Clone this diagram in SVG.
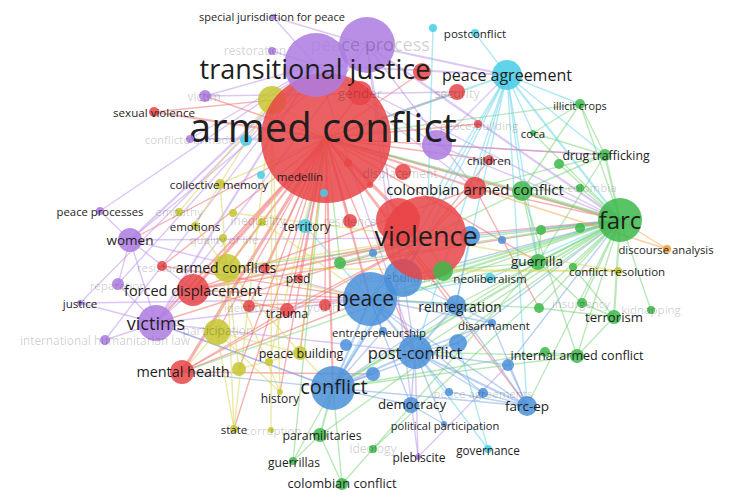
<svg xmlns="http://www.w3.org/2000/svg" width="736" height="500" viewBox="0 0 736 500">
<style>
#edges path{fill:none;stroke-width:1.4;stroke-opacity:0.5;stroke-linecap:round}
#edges .w2{stroke-width:2.2}
#edges .w3{stroke-width:3.2}
.er{stroke:#f06464}.ep{stroke:#bb8fec}.eg{stroke:#74d274}.eb{stroke:#78a4e4}.ey{stroke:#d8d450}.ec{stroke:#62d3e8}.eo{stroke:#f4a040}
circle{fill-opacity:0.85}
.cr{fill:#e84447}.cp{fill:#ad7be2}.cg{fill:#3db94a}.cb{fill:#4a8fd9}.cy{fill:#c6c630}.cc{fill:#47cde6}.co{fill:#f39a2e}
text{font-family:"Open Sans","DejaVu Sans",sans-serif;text-anchor:middle;dominant-baseline:central}
.t{fill:#1e1e1e}
.f{fill:#000;fill-opacity:0.2}
</style>
<rect width="736" height="500" fill="#fff"/>
<g id="edges">
<path class="er w3" d="M326 138L182 372"/><path class="er w3" d="M326 138L193 290"/><path class="er w2" d="M326 138L156 323"/><path class="er w2" d="M326 138L154 112"/><path class="er w2" d="M326 138L227 268"/><path class="er" d="M326 138L287 310"/><path class="er" d="M326 138L299 278"/><path class="er" d="M326 138L249 306"/><path class="er" d="M326 138L325 305"/><path class="er" d="M326 138L162 266"/><path class="er" d="M326 138L265 268"/><path class="er w3" d="M326 138L425 238"/><path class="er w2" d="M326 138L475 188"/><path class="er" d="M326 138L489 160"/><path class="er w2" d="M326 138L457 92"/><path class="er" d="M326 138L422 72"/><path class="er" d="M326 138L360 93"/><path class="er" d="M326 138L403 172"/><path class="er" d="M326 138L350 221"/><path class="er w2" d="M326 138L620 220"/><path class="er w2" d="M326 138L370 299"/><path class="er w2" d="M326 138L333 388"/><path class="er" d="M326 138L415 352"/><path class="er" d="M326 138L130 240"/><path class="er" d="M326 138L205 96"/><path class="er" d="M326 138L478 124"/><path class="er" d="M326 138L605 155"/><path class="er" d="M326 138L538 262"/><path class="er" d="M326 138L239 369"/><path class="er" d="M326 138L300 353"/><path class="er" d="M326 138L280 392"/><path class="er" d="M326 138L234 429"/><path class="er" d="M326 138L217 332"/><path class="er" d="M326 138L527 406"/><path class="er" d="M326 138L456 305"/><path class="er" d="M182 372L425 238"/><path class="er" d="M182 372L370 299"/><path class="er" d="M182 372L373 374"/><path class="er w2" d="M193 290L425 238"/><path class="er" d="M193 290L370 299"/><path class="er" d="M193 290L475 188"/><path class="er" d="M193 290L620 220"/><path class="er" d="M154 112L272 100"/><path class="er" d="M425 238L475 188"/><path class="er" d="M425 238L620 220"/><path class="er" d="M425 238L489 160"/><path class="er" d="M475 188L620 220"/><path class="er" d="M475 188L539 308"/><path class="er" d="M287 310L425 238"/><path class="er" d="M156 323L425 238"/><path class="er" d="M193 290L287 310"/><path class="er" d="M182 372L287 310"/><path class="er" d="M265 268L425 238"/><path class="er" d="M162 266L370 299"/><path class="er" d="M249 306L370 299"/>
<path class="ep w2" d="M316 65L156 323"/><path class="ep w2" d="M316 65L130 240"/><path class="ep" d="M316 65L118 284"/><path class="ep" d="M316 65L80 303"/><path class="ep" d="M316 65L273 17"/><path class="ep" d="M316 65L272 51"/><path class="ep" d="M316 65L205 96"/><path class="ep" d="M316 65L190 139"/><path class="ep w2" d="M316 65L507 75"/><path class="ep" d="M316 65L620 220"/><path class="ep" d="M316 65L437 145"/><path class="ep" d="M316 65L105 340"/><path class="ep" d="M316 65L100 211"/><path class="ep" d="M316 65L415 352"/><path class="ep" d="M316 65L475 188"/><path class="ep w2" d="M367 45L507 75"/><path class="ep w2" d="M367 45L620 220"/><path class="ep" d="M367 45L156 323"/><path class="ep" d="M367 45L130 240"/><path class="ep" d="M367 45L475 188"/><path class="ep" d="M367 45L273 17"/><path class="ep" d="M367 45L418 457"/><path class="ep" d="M367 45L415 352"/><path class="ep" d="M437 145L620 220"/><path class="ep" d="M437 145L605 155"/><path class="ep" d="M437 145L507 75"/><path class="ep" d="M156 323L130 240"/><path class="ep" d="M156 323L80 303"/><path class="ep" d="M156 323L118 284"/><path class="ep" d="M156 323L193 290"/><path class="ep" d="M156 323L105 340"/><path class="ep" d="M156 323L370 299"/><path class="ep" d="M156 323L333 388"/><path class="ep" d="M156 323L415 352"/><path class="ep" d="M130 240L100 211"/><path class="ep" d="M130 240L425 238"/><path class="ep" d="M130 240L370 299"/><path class="ep" d="M130 240L193 290"/><path class="ep" d="M205 96L457 92"/><path class="ep" d="M418 457L415 352"/><path class="ep" d="M418 457L508 365"/><path class="ep" d="M80 303L370 299"/><path class="ep" d="M118 284L130 240"/><path class="ep" d="M190 139L326 138"/>
<path class="eg w2" d="M620 220L538 262"/><path class="eg w2" d="M620 220L614 317"/><path class="eg" d="M620 220L577 356"/><path class="eg" d="M620 220L582 303"/><path class="eg" d="M620 220L651 310"/><path class="eg w2" d="M620 220L605 155"/><path class="eg" d="M620 220L580 104"/><path class="eg" d="M620 220L533 133"/><path class="eg" d="M620 220L559 164"/><path class="eg w3" d="M620 220L522 191"/><path class="eg" d="M620 220L580 188"/><path class="eg" d="M620 220L541 230"/><path class="eg" d="M620 220L580 228"/><path class="eg" d="M620 220L573 267"/><path class="eg" d="M620 220L539 308"/><path class="eg w2" d="M620 220L443 271"/><path class="eg w2" d="M620 220L370 299"/><path class="eg w2" d="M620 220L333 388"/><path class="eg" d="M620 220L415 352"/><path class="eg" d="M620 220L456 305"/><path class="eg" d="M620 220L527 406"/><path class="eg" d="M620 220L320 435"/><path class="eg" d="M620 220L227 268"/><path class="eg" d="M620 220L182 372"/><path class="eg" d="M620 220L340 263"/><path class="eg" d="M580 104L605 155"/><path class="eg" d="M580 104L533 133"/><path class="eg" d="M580 104L522 191"/><path class="eg" d="M580 104L326 138"/><path class="eg" d="M605 155L522 191"/><path class="eg" d="M605 155L533 133"/><path class="eg" d="M605 155L538 262"/><path class="eg" d="M605 155L475 188"/><path class="eg" d="M522 191L425 238"/><path class="eg w2" d="M522 191L326 138"/><path class="eg" d="M522 191L538 262"/><path class="eg" d="M522 191L577 356"/><path class="eg" d="M614 317L582 303"/><path class="eg" d="M614 317L577 356"/><path class="eg" d="M614 317L539 308"/><path class="eg" d="M614 317L573 267"/><path class="eg" d="M577 356L545 352"/><path class="eg" d="M577 356L333 388"/><path class="eg" d="M577 356L415 352"/><path class="eg w2" d="M320 435L333 388"/><path class="eg" d="M320 435L293 461"/><path class="eg" d="M320 435L342 484"/><path class="eg" d="M293 461L333 388"/><path class="eg" d="M293 461L326 138"/><path class="eg" d="M342 484L333 388"/><path class="eg" d="M342 484L538 262"/><path class="eg" d="M373 449L620 220"/><path class="eg" d="M340 263L425 238"/><path class="eg" d="M340 263L326 138"/><path class="eg" d="M538 262L541 230"/><path class="eg" d="M538 262L582 303"/><path class="eg" d="M538 262L333 388"/><path class="eg" d="M538 262L370 299"/><path class="eg" d="M538 262L443 271"/><path class="eg" d="M443 271L425 238"/><path class="eg" d="M580 188L522 191"/><path class="eg" d="M545 352L333 388"/><path class="eg" d="M539 308L370 299"/>
<path class="ec w2" d="M507 75L620 220"/><path class="ec" d="M507 75L580 104"/><path class="ec" d="M507 75L605 155"/><path class="ec" d="M507 75L538 262"/><path class="ec" d="M507 75L425 238"/><path class="ec" d="M507 75L370 299"/><path class="ec" d="M507 75L415 352"/><path class="ec" d="M507 75L333 388"/><path class="ec w2" d="M507 75L326 138"/><path class="ec" d="M507 75L475 188"/><path class="ec" d="M507 75L456 305"/><path class="ec" d="M507 75L533 133"/><path class="ec" d="M433 28L428 200"/><path class="ec" d="M475 33L507 75"/><path class="ec" d="M488 449L415 352"/><path class="ec" d="M488 449L458 343"/><path class="ec" d="M490 278L370 299"/><path class="ec" d="M490 278L620 220"/><path class="ec" d="M305 226L326 138"/><path class="ec" d="M305 226L370 299"/><path class="ec" d="M246 140L326 138"/><path class="ec" d="M507 75L522 191"/><path class="ec" d="M507 75L527 406"/>
<path class="eb w2" d="M333 388L370 299"/><path class="eb w2" d="M333 388L415 352"/><path class="eb w2" d="M333 388L425 238"/><path class="eb" d="M333 388L527 406"/><path class="eb" d="M333 388L411 405"/><path class="eb" d="M333 388L403 278"/><path class="eb" d="M333 388L456 305"/><path class="eb" d="M333 388L383 331"/><path class="eb" d="M333 388L373 374"/><path class="eb" d="M333 388L458 343"/><path class="eb" d="M333 388L182 372"/><path class="eb" d="M333 388L156 323"/><path class="eb w2" d="M370 299L456 305"/><path class="eb w2" d="M370 299L415 352"/><path class="eb" d="M370 299L383 331"/><path class="eb" d="M370 299L425 238"/><path class="eb" d="M370 299L492 323"/><path class="eb" d="M370 299L527 406"/><path class="eb" d="M370 299L483 393"/><path class="eb w2" d="M415 352L456 305"/><path class="eb w2" d="M415 352L527 406"/><path class="eb" d="M415 352L411 405"/><path class="eb" d="M415 352L492 323"/><path class="eb" d="M415 352L458 343"/><path class="eb" d="M415 352L508 365"/><path class="eb" d="M415 352L444 424"/><path class="eb" d="M415 352L483 393"/><path class="eb" d="M415 352L449 392"/><path class="eb" d="M527 406L456 305"/><path class="eb" d="M527 406L483 393"/><path class="eb" d="M527 406L449 392"/><path class="eb" d="M527 406L508 365"/><path class="eb" d="M527 406L492 323"/><path class="eb" d="M411 405L444 424"/><path class="eb" d="M411 405L370 299"/><path class="eb" d="M403 278L456 305"/><path class="eb" d="M403 278L425 238"/><path class="eb" d="M403 278L620 220"/><path class="eb" d="M470 236L620 220"/><path class="eb" d="M470 236L456 305"/><path class="eb" d="M458 343L620 220"/><path class="eb" d="M508 365L620 220"/><path class="eb" d="M456 305L492 323"/>
<path class="ey" d="M227 268L220 184"/><path class="ey" d="M227 268L195 226"/><path class="ey" d="M227 268L223 238"/><path class="ey" d="M227 268L262 222"/><path class="ey" d="M227 268L234 429"/><path class="ey" d="M227 268L280 392"/><path class="ey" d="M227 268L300 353"/><path class="ey" d="M227 268L239 369"/><path class="ey" d="M227 268L217 332"/><path class="ey" d="M227 268L370 299"/><path class="ey" d="M227 268L425 238"/><path class="ey" d="M227 268L618 271"/><path class="ey" d="M217 332L300 353"/><path class="ey" d="M217 332L234 429"/><path class="ey" d="M217 332L280 392"/><path class="ey" d="M217 332L182 372"/><path class="ey" d="M220 184L326 138"/><path class="ey" d="M220 184L195 226"/><path class="ey" d="M220 184L272 100"/><path class="ey" d="M300 353L333 388"/><path class="ey" d="M300 353L326 138"/><path class="ey" d="M300 353L239 369"/><path class="ey" d="M272 100L326 138"/><path class="ey" d="M234 429L272 100"/><path class="ey" d="M280 392L272 100"/><path class="ey" d="M179 212L272 100"/><path class="ey" d="M233 213L425 238"/><path class="ey" d="M618 271L443 271"/><path class="ey" d="M269 362L326 138"/><path class="ey" d="M618 271L425 238"/><path class="ey" d="M262 222L370 299"/><path class="ey" d="M271 430L272 100"/>
<path class="eo" d="M667 249L475 188"/><path class="eo" d="M667 249L620 220"/>
</g>
<g id="nodes">
<g id="n-red-a"><circle class="cr" cx="398" cy="220" r="22"/></g>
<g id="n-blue-a"><circle class="cb" cx="470" cy="236" r="10"/></g>
<g id="n-blue-b"><circle class="cb" cx="458" cy="343" r="9"/></g>
<g id="n-blue-c"><circle class="cb" cx="373" cy="374" r="7"/></g>
<g id="n-green-a"><circle class="cg" cx="522" cy="191" r="10"/></g>
<g id="n-green-d"><circle class="cg" cx="559" cy="164" r="5"/></g>
<g id="n-green-g"><circle class="cg" cx="573" cy="267" r="4"/></g>
<g id="n-green-i"><circle class="cg" cx="545" cy="352" r="5"/></g>
<g id="n-red-c"><circle class="cr" cx="265" cy="268" r="5"/></g>
<g id="n-yellow-a"><circle class="cy" cx="272" cy="100" r="14"/></g>
<g id="n-cyan-a"><circle class="cc" cx="246" cy="140" r="6"/></g>
<g id="n-purple-a"><circle class="cp" cx="437" cy="145" r="15"/></g>
<g id="n-red-b"><circle class="cr" cx="422" cy="72" r="9"/></g>
<g id="n-peace-process"><circle class="cp" cx="367" cy="45" r="28"/><text class="f" x="370" y="44" font-size="18">peace process</text></g>
<g id="n-peacebuilding"><circle class="cb" cx="403" cy="278" r="19"/><text class="f" x="398" y="277" font-size="12">peacebuilding</text></g>
<g id="n-armed-conflict"><circle class="cr" cx="326" cy="138" r="65"/><text class="t" x="323" y="126" font-size="40">armed conflict</text></g>
<g id="n-violence"><circle class="cr" cx="425" cy="238" r="42"/><text class="t" x="426" y="235" font-size="27">violence</text></g>
<g id="n-transitional-justice"><circle class="cp" cx="316" cy="65" r="32"/><text class="t" x="315" y="68" font-size="27">transitional justice</text></g>
<g id="n-peace"><circle class="cb" cx="370" cy="299" r="27"/><text class="t" x="365" y="298" font-size="21">peace</text></g>
<g id="n-farc"><circle class="cg" cx="620" cy="220" r="22"/><text class="t" x="620" y="219" font-size="24">farc</text></g>
<g id="n-conflict"><circle class="cb" cx="333" cy="388" r="22"/><text class="t" x="334" y="386" font-size="20">conflict</text></g>
<g id="n-victims"><circle class="cp" cx="156" cy="323" r="18"/><text class="t" x="156" y="323" font-size="18">victims</text></g>
<g id="n-post-conflict"><circle class="cb" cx="415" cy="352" r="17"/><text class="t" x="415" y="352" font-size="16.5">post-conflict</text></g>
<g id="n-forced-displacement"><circle class="cr" cx="193" cy="290" r="16"/><text class="t" x="193" y="290" font-size="14.5">forced displacement</text></g>
<g id="n-peace-agreement"><circle class="cc" cx="507" cy="75" r="15"/><text class="t" x="507" y="75" font-size="16">peace agreement</text></g>
<g id="n-armed-conflicts"><circle class="cy" cx="227" cy="268" r="14"/><text class="t" x="226" y="267" font-size="14">armed conflicts</text></g>
<g id="n-participation"><circle class="cy" cx="217" cy="332" r="13"/><text class="f" x="218" y="330" font-size="12">participation</text></g>
<g id="n-mental-health"><circle class="cr" cx="182" cy="372" r="12"/><text class="t" x="183" y="371" font-size="14.4">mental health</text></g>
<g id="n-women"><circle class="cp" cx="130" cy="240" r="12"/><text class="t" x="130" y="240" font-size="13.5">women</text></g>
<g id="n-gender"><circle class="cr" cx="360" cy="93" r="12"/><text class="f" x="360" y="93" font-size="13.5">gender</text></g>
<g id="n-colombian-armed-conflict"><circle class="cr" cx="475" cy="188" r="11"/><text class="t" x="475" y="189" font-size="15">colombian armed conflict</text></g>
<g id="n-green-b"><circle class="cg" cx="443" cy="271" r="10"/></g>
<g id="n-reintegration"><circle class="cb" cx="456" cy="305" r="10"/><text class="t" x="460" y="306" font-size="13.7">reintegration</text></g>
<g id="n-farc-ep"><circle class="cb" cx="527" cy="406" r="10"/><text class="t" x="527" y="406" font-size="13.5">farc-ep</text></g>
<g id="n-security"><circle class="cr" cx="457" cy="92" r="8"/><text class="f" x="457" y="93" font-size="12.4">security</text></g>
<g id="n-guerrilla"><circle class="cg" cx="538" cy="262" r="8"/><text class="t" x="537" y="261" font-size="13.5">guerrilla</text></g>
<g id="n-democracy"><circle class="cb" cx="411" cy="405" r="8"/><text class="t" x="412" y="404" font-size="13.3">democracy</text></g>
<g id="n-displacement"><circle class="cr" cx="403" cy="172" r="8"/><text class="f" x="400" y="173" font-size="12">displacement</text></g>
<g id="n-paramilitaries"><circle class="cg" cx="320" cy="435" r="7"/><text class="t" x="322" y="435" font-size="12.3">paramilitaries</text></g>
<g id="n-terrorism"><circle class="cg" cx="614" cy="317" r="7"/><text class="t" x="614" y="317" font-size="13.2">terrorism</text></g>
<g id="n-internal-armed-conflict"><circle class="cg" cx="577" cy="356" r="7"/><text class="t" x="577" y="355" font-size="12.6">internal armed conflict</text></g>
<g id="n-yellow-b"><circle class="cy" cx="239" cy="369" r="7"/></g>
<g id="n-peace-building"><circle class="cy" cx="300" cy="353" r="7"/><text class="t" x="301" y="353" font-size="12.5">peace building</text></g>
<g id="n-resilience"><circle class="cr" cx="350" cy="221" r="7"/><text class="f" x="350" y="221" font-size="12">resilience</text></g>
<g id="n-territory"><circle class="cc" cx="305" cy="226" r="7"/><text class="t" x="307" y="226" font-size="12.3">territory</text></g>
<g id="n-trauma"><circle class="cr" cx="287" cy="310" r="7"/><text class="t" x="287" y="313" font-size="12.4">trauma</text></g>
<g id="n-blue-d"><circle class="cb" cx="508" cy="365" r="6"/></g>
<g id="n-blue-e"><circle class="cb" cx="346" cy="345" r="6"/></g>
<g id="n-youth"><circle class="cr" cx="325" cy="305" r="6"/><text class="f" x="323" y="307" font-size="12">youth</text></g>
<g id="n-identity"><circle class="cr" cx="249" cy="306" r="6"/><text class="f" x="244" y="307" font-size="11.5">identity</text></g>
<g id="n-victim"><circle class="cp" cx="205" cy="96" r="6"/><text class="f" x="204" y="96" font-size="12">victim</text></g>
<g id="n-drug-trafficking"><circle class="cg" cx="605" cy="155" r="6"/><text class="t" x="606" y="155" font-size="12.3">drug trafficking</text></g>
<g id="n-green-c"><circle class="cg" cx="340" cy="263" r="6"/></g>
<g id="n-reparation"><circle class="cp" cx="118" cy="284" r="6"/><text class="f" x="118" y="285" font-size="11.5">reparation</text></g>
<g id="n-colombian-conflict"><circle class="cg" cx="342" cy="484" r="6"/><text class="t" x="342" y="483" font-size="12.8">colombian conflict</text></g>
<g id="n-resistance"><circle class="cr" cx="162" cy="266" r="5"/><text class="f" x="164" y="267" font-size="11.5">resistance</text></g>
<g id="n-sexual-violence"><circle class="cr" cx="154" cy="112" r="5"/><text class="t" x="154" y="112" font-size="11.6">sexual violence</text></g>
<g id="n-children"><circle class="cr" cx="489" cy="160" r="5"/><text class="t" x="489" y="160" font-size="11.6">children</text></g>
<g id="n-ihl"><circle class="cp" cx="105" cy="340" r="5"/><text class="f" x="105" y="340" font-size="11.8">international humanitarian law</text></g>
<g id="n-illicit-crops"><circle class="cg" cx="580" cy="104" r="5"/><text class="t" x="580" y="105" font-size="10.8">illicit crops</text></g>
<g id="n-green-e"><circle class="cg" cx="541" cy="230" r="5"/></g>
<g id="n-green-f"><circle class="cg" cx="580" cy="228" r="5"/></g>
<g id="n-peace-agreements"><circle class="cb" cx="483" cy="393" r="5"/><text class="f" x="483" y="393" font-size="11.5">peace agreements</text></g>
<g id="n-blue-f"><circle class="cb" cx="449" cy="392" r="4"/></g>
<g id="n-collective-memory"><circle class="cy" cx="220" cy="184" r="5"/><text class="t" x="219" y="184" font-size="11.6">collective memory</text></g>
<g id="n-inequality"><circle class="cy" cx="262" cy="222" r="4"/><text class="f" x="258" y="220" font-size="12">inequality</text></g>
<g id="n-yellow-c"><circle class="cy" cx="233" cy="213" r="4"/></g>
<g id="n-empathy"><circle class="cy" cx="179" cy="212" r="4"/><text class="f" x="179" y="211" font-size="11.5">empathy</text></g>
<g id="n-emotions"><circle class="cy" cx="195" cy="226" r="4"/><text class="t" x="195" y="226" font-size="11.5">emotions</text></g>
<g id="n-quality-of-life"><circle class="cy" cx="223" cy="238" r="4"/><text class="f" x="224" y="239" font-size="11.5">quality of life</text></g>
<g id="n-ptsd"><circle class="cr" cx="299" cy="278" r="4"/><text class="t" x="298" y="278" font-size="12">ptsd</text></g>
<g id="n-peace-building-r"><circle class="cr" cx="478" cy="124" r="4"/><text class="f" x="479" y="125" font-size="11.5">peace-building</text></g>
<g id="n-red-d"><circle class="cr" cx="348" cy="163" r="4"/></g>
<g id="n-red-e"><circle class="cr" cx="370" cy="185" r="3"/></g>
<g id="n-cyan-d"><circle class="cc" cx="324" cy="193" r="4"/></g>
<g id="n-medellin"><circle class="cr" cx="300" cy="176" r="3"/><text class="t" x="300" y="176" font-size="11.5">medellín</text></g>
<g id="n-conflicto-armado"><circle class="cp" cx="190" cy="139" r="4"/><text class="f" x="190" y="139" font-size="11.5">conflicto armado</text></g>
<g id="n-restoration"><circle class="cp" cx="272" cy="51" r="4"/><text class="f" x="255" y="50" font-size="12">restoration</text></g>
<g id="n-special-jurisdiction"><circle class="cp" cx="273" cy="17" r="3"/><text class="t" x="272" y="16" font-size="11">special jurisdiction for peace</text></g>
<g id="n-postconflict"><circle class="cc" cx="475" cy="33" r="4"/><text class="t" x="475" y="33" font-size="11.5">postconflict</text></g>
<g id="n-cyan-b"><circle class="cc" cx="433" cy="28" r="4"/></g>
<g id="n-peace-processes"><circle class="cp" cx="100" cy="211" r="4"/><text class="t" x="100" y="211" font-size="11.3">peace processes</text></g>
<g id="n-justice"><circle class="cp" cx="80" cy="303" r="3"/><text class="t" x="80" y="303" font-size="11.5">justice</text></g>
<g id="n-neoliberalism"><circle class="cc" cx="490" cy="278" r="5"/><text class="t" x="490" y="278" font-size="11.6">neoliberalism</text></g>
<g id="n-disarmament"><circle class="cb" cx="492" cy="323" r="4"/><text class="t" x="494" y="325" font-size="11.5">disarmament</text></g>
<g id="n-conflict-resolution"><circle class="cy" cx="618" cy="271" r="4"/><text class="t" x="617" y="271" font-size="11.5">conflict resolution</text></g>
<g id="n-discourse-analysis"><circle class="co" cx="667" cy="249" r="4"/><text class="t" x="666" y="249" font-size="11.3">discourse analysis</text></g>
<g id="n-insurgency"><circle class="cg" cx="582" cy="303" r="5"/><text class="f" x="581" y="303" font-size="11.5">insurgency</text></g>
<g id="n-kidnapping"><circle class="cg" cx="651" cy="310" r="4"/><text class="f" x="651" y="309" font-size="11.5">kidnapping</text></g>
<g id="n-green-h"><circle class="cg" cx="539" cy="308" r="5"/></g>
<g id="n-governance"><circle class="cc" cx="488" cy="449" r="4"/><text class="t" x="488" y="450" font-size="11.7">governance</text></g>
<g id="n-political-participation"><circle class="cb" cx="444" cy="424" r="3"/><text class="t" x="445" y="425" font-size="11.1">political participation</text></g>
<g id="n-plebiscite"><circle class="cp" cx="418" cy="457" r="3"/><text class="t" x="419" y="457" font-size="12">plebiscite</text></g>
<g id="n-ideology"><circle class="cg" cx="373" cy="449" r="4"/><text class="f" x="373" y="448" font-size="12">ideology</text></g>
<g id="n-guerrillas"><circle class="cg" cx="293" cy="461" r="4"/><text class="t" x="294" y="462" font-size="12">guerrillas</text></g>
<g id="n-state"><circle class="cy" cx="234" cy="429" r="4"/><text class="t" x="234" y="429" font-size="11.5">state</text></g>
<g id="n-corruption"><circle class="cy" cx="271" cy="430" r="3"/><text class="f" x="273" y="430" font-size="11.5">corruption</text></g>
<g id="n-history"><circle class="cy" cx="280" cy="392" r="3"/><text class="t" x="280" y="398" font-size="12">history</text></g>
<g id="n-coca"><circle class="cg" cx="533" cy="133" r="3"/><text class="t" x="533" y="133" font-size="11.5">coca</text></g>
<g id="n-colombia"><circle class="cg" cx="580" cy="188" r="4"/><text class="f" x="592" y="187" font-size="11.5">colombia</text></g>
<g id="n-cyan-c"><circle class="cc" cx="261" cy="175" r="4"/></g>
<g id="n-blue-g"><circle class="cb" cx="373" cy="253" r="4"/></g>
<g id="n-blue-h"><circle class="cb" cx="502" cy="240" r="4"/></g>
<g id="n-entrepreneurship"><circle class="cb" cx="383" cy="331" r="4"/><text class="t" x="379" y="332" font-size="11.4">entrepreneurship</text></g>
<g id="n-yellow-d"><circle class="cy" cx="269" cy="362" r="4"/></g>
</g>
</svg>
